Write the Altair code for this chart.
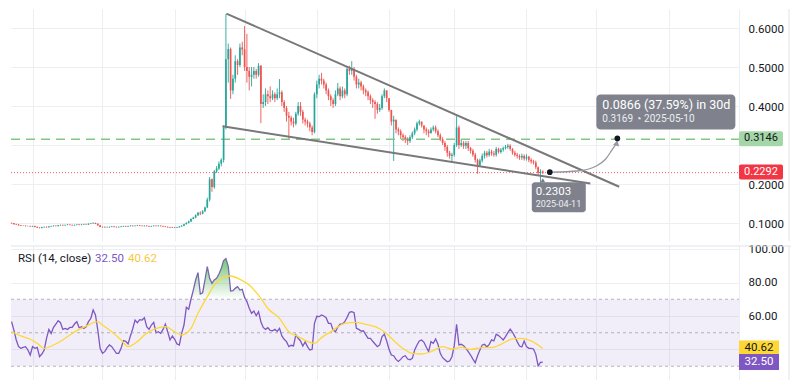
import altair as alt
import pandas as pd

# ---------------- data ----------------
START_DATE = "2024-08-23"
FIRST_OPEN = 0.100

close = [
    0.099, 0.097, 0.096, 0.094, 0.093, 0.093, 0.092, 0.092, 0.091, 0.092,
    0.090, 0.088, 0.087, 0.089, 0.090, 0.089, 0.091, 0.092, 0.093, 0.092,
    0.094, 0.095, 0.094, 0.095, 0.096, 0.095, 0.094, 0.095, 0.096, 0.095,
    0.096, 0.097, 0.096, 0.098, 0.099, 0.100, 0.098, 0.094, 0.090, 0.089,
    0.090, 0.089, 0.090, 0.091, 0.090, 0.089, 0.090, 0.091, 0.092, 0.091,
    0.092, 0.093, 0.092, 0.093, 0.094, 0.093, 0.092, 0.093, 0.092, 0.091,
    0.092, 0.093, 0.092, 0.093, 0.092, 0.091, 0.090, 0.089, 0.088, 0.089,
    0.088, 0.089, 0.091, 0.093, 0.097, 0.100, 0.104, 0.110,
    0.114, 0.120, 0.126, 0.124, 0.130, 0.140, 0.160, 0.212, 0.192, 0.232,
    0.240, 0.252, 0.262, 0.345, 0.520,
    0.546, 0.440, 0.470, 0.515, 0.505, 0.550, 0.545, 0.500, 0.490, 0.475,
    0.480, 0.490, 0.480, 0.503, 0.405, 0.410, 0.430, 0.425, 0.420, 0.430,
    0.420, 0.430, 0.435, 0.410, 0.395, 0.375, 0.370, 0.360, 0.355, 0.380,
    0.400, 0.385, 0.365, 0.360, 0.355, 0.345, 0.333, 0.430, 0.455, 0.470,
    0.465, 0.455, 0.440, 0.425, 0.415, 0.405, 0.430, 0.445, 0.425, 0.440,
    0.430, 0.495, 0.490, 0.495, 0.475, 0.455, 0.460, 0.450, 0.440, 0.435,
    0.425, 0.415, 0.410, 0.405, 0.390, 0.395, 0.425, 0.440, 0.420, 0.390,
    0.360, 0.365, 0.340, 0.335, 0.325, 0.320, 0.315, 0.310, 0.320, 0.330,
    0.340, 0.355, 0.360, 0.350, 0.340, 0.335, 0.330, 0.340, 0.345, 0.335,
    0.325, 0.315, 0.305, 0.295, 0.280, 0.272, 0.275, 0.300, 0.345, 0.300,
    0.305, 0.298, 0.305, 0.292, 0.285, 0.275, 0.262, 0.248, 0.260, 0.272,
    0.280, 0.274, 0.283, 0.278, 0.275, 0.290, 0.282, 0.288, 0.292, 0.295,
    0.298, 0.290, 0.280, 0.275, 0.272, 0.268, 0.272, 0.265, 0.270, 0.262,
    0.258, 0.255, 0.243, 0.228, 0.232, 0.229,
]

high = [
    0.101, 0.100, 0.098, 0.097, 0.095, 0.094, 0.094, 0.093, 0.093, 0.093,
    0.093, 0.091, 0.089, 0.090, 0.091, 0.091, 0.092, 0.093, 0.094, 0.094,
    0.095, 0.096, 0.096, 0.096, 0.097, 0.097, 0.096, 0.096, 0.097, 0.097,
    0.097, 0.098, 0.098, 0.099, 0.100, 0.102, 0.101, 0.099, 0.095, 0.091,
    0.091, 0.091, 0.091, 0.092, 0.092, 0.091, 0.091, 0.092, 0.093, 0.093,
    0.093, 0.094, 0.094, 0.094, 0.095, 0.095, 0.094, 0.094, 0.094, 0.093,
    0.093, 0.094, 0.094, 0.094, 0.094, 0.093, 0.092, 0.091, 0.090, 0.090,
    0.090, 0.090, 0.092, 0.094, 0.098, 0.102, 0.106, 0.112,
    0.116, 0.122, 0.128, 0.130, 0.133, 0.142, 0.165, 0.218, 0.214, 0.236,
    0.246, 0.258, 0.266, 0.350, 0.636,
    0.560, 0.550, 0.480, 0.530, 0.520, 0.560, 0.565, 0.605, 0.585, 0.500,
    0.500, 0.500, 0.495, 0.510, 0.505, 0.430, 0.445, 0.440, 0.450, 0.440,
    0.435, 0.445, 0.469, 0.440, 0.415, 0.400, 0.385, 0.375, 0.370, 0.385,
    0.410, 0.410, 0.390, 0.370, 0.365, 0.360, 0.350, 0.435, 0.465, 0.480,
    0.485, 0.470, 0.460, 0.445, 0.430, 0.420, 0.440, 0.459, 0.450, 0.450,
    0.445, 0.500, 0.503, 0.515, 0.500, 0.480, 0.470, 0.465, 0.455, 0.445,
    0.440, 0.430, 0.420, 0.415, 0.410, 0.405, 0.430, 0.445, 0.440, 0.420,
    0.390, 0.375, 0.365, 0.345, 0.340, 0.330, 0.325, 0.320, 0.325, 0.335,
    0.345, 0.360, 0.365, 0.360, 0.350, 0.345, 0.340, 0.345, 0.350, 0.350,
    0.340, 0.330, 0.320, 0.310, 0.300, 0.285, 0.280, 0.305, 0.374, 0.350,
    0.315, 0.310, 0.310, 0.310, 0.295, 0.290, 0.280, 0.265, 0.265, 0.278,
    0.285, 0.285, 0.290, 0.288, 0.285, 0.295, 0.293, 0.292, 0.296, 0.300,
    0.303, 0.302, 0.292, 0.285, 0.280, 0.276, 0.278, 0.276, 0.276, 0.272,
    0.266, 0.262, 0.260, 0.245, 0.238, 0.235,
]

low = [
    0.098, 0.096, 0.095, 0.093, 0.092, 0.092, 0.091, 0.091, 0.090, 0.090,
    0.089, 0.087, 0.086, 0.086, 0.088, 0.088, 0.088, 0.090, 0.091, 0.091,
    0.091, 0.093, 0.093, 0.093, 0.094, 0.094, 0.093, 0.093, 0.094, 0.094,
    0.094, 0.095, 0.095, 0.095, 0.097, 0.098, 0.097, 0.093, 0.089, 0.088,
    0.088, 0.088, 0.088, 0.089, 0.089, 0.088, 0.088, 0.089, 0.090, 0.090,
    0.090, 0.091, 0.091, 0.091, 0.092, 0.092, 0.091, 0.091, 0.091, 0.090,
    0.090, 0.091, 0.091, 0.091, 0.091, 0.090, 0.089, 0.088, 0.087, 0.087,
    0.087, 0.087, 0.088, 0.090, 0.092, 0.096, 0.099, 0.103,
    0.110, 0.112, 0.118, 0.120, 0.122, 0.128, 0.138, 0.155, 0.180, 0.188,
    0.228, 0.236, 0.245, 0.255, 0.340,
    0.460, 0.418, 0.430, 0.460, 0.480, 0.500, 0.530, 0.490, 0.460, 0.440,
    0.450, 0.470, 0.470, 0.475, 0.356, 0.395, 0.400, 0.405, 0.410, 0.415,
    0.410, 0.415, 0.420, 0.400, 0.385, 0.360, 0.315, 0.350, 0.345, 0.350,
    0.375, 0.375, 0.355, 0.350, 0.345, 0.335, 0.325, 0.330, 0.420, 0.445,
    0.455, 0.445, 0.430, 0.415, 0.400, 0.395, 0.400, 0.425, 0.415, 0.420,
    0.420, 0.425, 0.480, 0.480, 0.465, 0.445, 0.445, 0.440, 0.430, 0.425,
    0.415, 0.405, 0.395, 0.367, 0.380, 0.385, 0.390, 0.420, 0.410, 0.385,
    0.350, 0.259, 0.330, 0.325, 0.315, 0.310, 0.305, 0.300, 0.305, 0.315,
    0.325, 0.335, 0.350, 0.345, 0.330, 0.325, 0.320, 0.330, 0.335, 0.330,
    0.320, 0.310, 0.300, 0.285, 0.270, 0.265, 0.254, 0.270, 0.295, 0.290,
    0.295, 0.290, 0.290, 0.285, 0.278, 0.270, 0.255, 0.226, 0.245, 0.255,
    0.265, 0.268, 0.270, 0.272, 0.270, 0.270, 0.278, 0.278, 0.283, 0.288,
    0.290, 0.285, 0.275, 0.270, 0.265, 0.262, 0.262, 0.260, 0.260, 0.256,
    0.252, 0.250, 0.238, 0.222, 0.203, 0.225,
]

rsi = [
    56.6, 51.6, 45.7, 41.7, 40.7, 41.3, 41.7, 39.7, 36.7, 41.7,
    40.7, 41.3, 35.7, 37.3, 39.7, 46.7, 52.0, 49.6, 53.2, 55.2,
    57.2, 56.0, 52.0, 52.6, 52.0, 53.2, 53.2, 55.2, 56.6, 53.0,
    53.6, 52.6, 53.6, 56.6, 58.6, 63.6, 60.6, 51.6, 40.7, 37.7,
    38.7, 41.1, 42.7, 41.7, 39.7, 37.7, 37.7, 40.7, 45.3, 44.9,
    43.3, 48.1, 52.4, 57.6, 56.0, 57.8, 57.6, 59.0, 53.6, 52.0,
    54.6, 56.2, 50.0, 50.6, 49.6, 52.0, 55.2, 50.6, 45.7, 48.1,
    46.1, 43.3, 42.7, 49.6, 54.6, 65.2, 64.0, 70.0, 75.5, 81.5,
    85.9, 73.1, 73.9, 81.5, 89.5, 82.5, 79.5, 81.5, 82.5, 85.1,
    88.3, 93.0, 94.2, 89.5, 74.9, 75.1, 76.5, 77.5, 75.5, 75.9,
    71.1, 68.6, 64.6, 61.6, 63.0, 60.2, 62.6, 56.6, 53.2, 52.0,
    53.0, 51.4, 51.2, 52.0, 50.8, 52.6, 48.1, 46.1, 44.7, 41.7,
    42.5, 42.1, 48.7, 46.7, 45.1, 42.1, 44.5, 41.7, 39.7, 40.1,
    55.6, 59.8, 59.6, 60.6, 60.0, 59.0, 55.6, 55.6, 51.6, 50.6,
    53.4, 55.2, 55.2, 56.6, 59.2, 62.2, 62.6, 62.0, 52.6, 52.0,
    51.0, 51.2, 48.9, 46.7, 46.7, 44.9, 43.3, 41.7, 42.7, 47.7,
    49.1, 45.1, 40.1, 36.7, 36.3, 34.1, 32.9, 34.1, 35.7, 36.3,
    34.3, 33.9, 34.7, 39.7, 42.7, 45.1, 45.7, 44.3, 41.3, 38.7,
    44.7, 43.7, 46.3, 43.1, 37.7, 35.1, 33.9, 32.7, 33.1, 35.7,
    42.3, 55.0, 42.7, 43.1, 42.3, 40.7, 38.7, 36.7, 34.3, 32.1,
    36.3, 39.7, 42.7, 43.1, 41.5, 43.1, 45.7, 45.1, 49.1, 48.3,
    47.1, 45.7, 47.7, 50.1, 52.2, 50.3, 47.7, 44.7, 42.1, 41.5,
    45.1, 41.7, 40.7, 40.7, 40.3, 37.1, 30.2, 32.3, 32.5,
]

# RSI-based moving average, read at these candle numbers (0 = first candle)
rsi_ma_day = [0, 4, 8, 11, 14, 18, 22, 25, 29, 32, 37, 39, 43, 47, 50, 54, 57, 61, 66, 70,
              73, 77, 80, 84, 87, 91, 94, 98, 102, 107, 110, 115, 119, 123, 130, 133, 137, 143, 148, 152,
              156, 160, 163, 167, 172, 176, 180, 185, 189, 193, 197, 202, 206, 210, 215, 219, 223, 228]
rsi_ma = [50.6, 48.1, 46.1, 43.7, 40.7, 42.7, 45.7, 48.7, 52.0, 54.0, 56.6, 54.6, 50.6, 45.7, 41.7, 44.7, 48.7, 52.0, 53.6, 50.6,
          48.7, 52.6, 61.6, 71.5, 78.5, 83.1, 83.9, 81.9, 78.5, 70.5, 64.5, 58.6, 50.6, 47.7, 43.7, 47.1, 50.6, 55.6, 56.2, 55.0,
          53.6, 50.6, 46.7, 41.7, 37.7, 37.3, 38.7, 41.7, 40.3, 41.3, 40.1, 41.1, 41.1, 43.1, 46.3, 46.7, 45.1, 40.6]

# wedge trend lines
trend_line = ["upper", "upper", "lower", "lower"]
trend_date = ["2024-11-23T05:00:00", "2025-05-10T19:00:00", "2024-11-21T12:00:00", "2025-04-28T10:00:00"]
trend_price = [0.637, 0.193, 0.348, 0.201]

target_level = 0.3146
last_price = 0.2292

proj_date = ["2025-04-11T00:00:00", "2025-05-10T00:00:00"]
proj_price = [0.2303, 0.3169]
arrow_date = ["2025-04-11T00:00:00", "2025-04-23T00:00:00", "2025-05-01T00:00:00",
              "2025-05-05T00:00:00", "2025-05-08T00:00:00", "2025-05-09T18:00:00"]
arrow_price = [0.2303, 0.2333, 0.246, 0.264, 0.29, 0.305]

rsi_last = 32.50
rsi_ma_last = 40.62
price_ticks = [0.1, 0.2, 0.3, 0.4, 0.5, 0.6]
rsi_ticks = [40, 60, 80, 100]
# tick labels that sit under the value tags (hidden there in the reference)
price_hidden_label = 0.3
rsi_hidden_label = 40

# ---------------- styling ----------------
GREEN = "#26a69a"
RED = "#ef5350"
GRID = "#eceef2"
TEXT = "#131722"
PURPLE = "#7e57c2"
YELLOW = "#fdd835"
TREND = "#787878"
TAG = "#787b86"
FONT = "Roboto"
W = 728
H_PRICE = 232
H_RSI = 139

# ---------------- tables ----------------
n = len(close)
assert len(high) == n and len(low) == n and len(rsi) == n
assert len(rsi_ma_day) == len(rsi_ma)
start = pd.Timestamp(START_DATE)
fmt = "%Y-%m-%dT%H:%M:%S"
dates = [(start + pd.Timedelta(days=i)).strftime(fmt) for i in range(n)]
opens = [FIRST_OPEN] + close[:-1]
candles = pd.DataFrame({"date": dates, "open": opens, "close": close,
                        "high": high, "low": low, "rsi": rsi})
candles["dir"] = ["up" if c >= o else "down" for o, c in zip(opens, close)]

ma_df = pd.DataFrame({"date": [(start + pd.Timedelta(days=d)).strftime(fmt) for d in rsi_ma_day],
                      "ma": rsi_ma})
trend_df = pd.DataFrame({"line": trend_line, "date": trend_date, "p": trend_price})
proj_df = pd.DataFrame({"date": proj_date, "p": proj_price})
arrow_df = pd.DataFrame({"date": arrow_date, "p": arrow_price, "k": list(range(len(arrow_date)))})

x_scale = alt.Scale(domain=[alt.DateTime(year=2024, month=8, date=22, hours=18),
                            alt.DateTime(year=2025, month=7, date=1, hours=5)])
y_price = alt.Scale(domain=[0.0538, 0.6487], nice=False, zero=False)
y_rsi = alt.Scale(domain=[18.8, 101.8], nice=False, zero=False)
color_scale = alt.Scale(domain=["up", "down"], range=[GREEN, RED])


def x_axis():
    return alt.Axis(grid=True, gridColor=GRID, labels=False, ticks=False,
                    domain=False, title=None)


def y_axis(values, fmt_, hidden, offset):
    return alt.Axis(orient="right", values=values, format=fmt_, grid=True, gridColor=GRID,
                    ticks=False, domain=False, labelPadding=9, labelFontSize=11.5,
                    labelColor=TEXT, title=None, labelOffset=offset,
                    labelExpr=f"abs(datum.value - {hidden}) < 1e-9 ? '' : datum.label")


# every layer repeats the same axis definition, so nothing conflicts when layers merge
def XT():
    return alt.X("date:T", scale=x_scale, axis=x_axis())


def YP(field):
    return alt.Y(field, scale=y_price, axis=y_axis(price_ticks, ".4f", price_hidden_label, 2))


def YR(field):
    return alt.Y(field, scale=y_rsi, axis=y_axis(rsi_ticks, ".2f", rsi_hidden_label, 0))


# ---------------- price pane ----------------
wicks = alt.Chart(candles).mark_rule(strokeWidth=0.9).encode(
    x=XT(), y=YP("low:Q"), y2="high:Q",
    color=alt.Color("dir:N", scale=color_scale, legend=None),
)
bodies = alt.Chart(candles).mark_rule(strokeWidth=1.7, strokeCap="butt").encode(
    x=XT(), y=YP("open:Q"), y2="close:Q",
    color=alt.Color("dir:N", scale=color_scale, legend=None),
)
target_rule = alt.Chart(pd.DataFrame({"p": [target_level]})).mark_rule(
    color="#81c784", strokeWidth=1.6, strokeDash=[9, 6]).encode(
    y=YP("p:Q"), x=alt.value(0), x2=alt.value(W))
last_rule = alt.Chart(pd.DataFrame({"p": [last_price]})).mark_rule(
    color="#f23645", strokeWidth=1, strokeDash=[1, 2], opacity=0.8).encode(
    y=YP("p:Q"), x=alt.value(0), x2=alt.value(W))
trend = alt.Chart(trend_df).mark_line(color=TREND, strokeWidth=2).encode(
    x=XT(), y=YP("p:Q"), detail="line:N")
arrow = alt.Chart(arrow_df).mark_line(color="#9598a1", strokeWidth=1.3, interpolate="monotone").encode(
    x=XT(), y=YP("p:Q"), order="k:Q")
arrow_head = alt.Chart(arrow_df.tail(1)).mark_point(
    shape="triangle-up", filled=True, size=40, color="#9598a1", angle=15, opacity=1).encode(
    x=XT(), y=YP("p:Q"))

start_pt = proj_df.head(1)
end_pt = proj_df.tail(1)
box_end = alt.Chart(end_pt).mark_rect(color=TAG, cornerRadius=4, xOffset=-21, x2Offset=118,
                                      yOffset=-44, y2Offset=-9, opacity=0.95).encode(
    x=XT(), x2="date:T", y=YP("p:Q"), y2="p:Q")
txt_end1 = alt.Chart(end_pt).mark_text(align="left", baseline="middle", dx=-15, dy=-33,
                                       fontSize=12.5, font=FONT, color="white",
                                       text="0.0866 (37.59%) in 30d").encode(
    x=XT(), y=YP("p:Q"))
txt_end2 = alt.Chart(end_pt).mark_text(align="left", baseline="middle", dx=-15, dy=-19,
                                       fontSize=10, font=FONT, color="#eceef2",
                                       text="0.3169 \u25d4 2025-05-10").encode(
    x=XT(), y=YP("p:Q"))

box_start = alt.Chart(start_pt).mark_rect(color=TAG, cornerRadius=3, xOffset=-18, x2Offset=36,
                                          yOffset=10, y2Offset=40, opacity=0.95).encode(
    x=XT(), x2="date:T", y=YP("p:Q"), y2="p:Q")
pointer = alt.Chart(start_pt).mark_point(shape="triangle-up", filled=True, size=22, color=TAG,
                                         xOffset=-7, yOffset=8, opacity=1).encode(
    x=XT(), y=YP("p:Q"))
txt_start1 = alt.Chart(start_pt).mark_text(align="left", baseline="middle", dx=-14, dy=20,
                                           fontSize=11.5, font=FONT, color="white",
                                           text="0.2303").encode(
    x=XT(), y=YP("p:Q"))
txt_start2 = alt.Chart(start_pt).mark_text(align="left", baseline="middle", dx=-14, dy=32,
                                           fontSize=9, font=FONT, color="#eceef2",
                                           text="2025-04-11").encode(
    x=XT(), y=YP("p:Q"))
dots = alt.Chart(proj_df).mark_circle(size=32, color=TEXT, opacity=1).encode(
    x=XT(), y=YP("p:Q"))

price_tags = pd.DataFrame({"p": [target_level, last_price],
                           "t": [f"{target_level:.4f}", f"{last_price:.4f}"],
                           "fill": ["#a5d6a7", "#f23645"],
                           "ink": [TEXT, "white"]})
tag_boxes = alt.Chart(price_tags).mark_rect(yOffset=-8, y2Offset=7, cornerRadius=2).encode(
    x=alt.value(W), x2=alt.value(W + 44),
    y=YP("p:Q"), y2="p:Q",
    color=alt.Color("fill:N", scale=None))
tag_text = alt.Chart(price_tags).mark_text(align="center", baseline="middle", fontSize=11,
                                           font=FONT, dy=-1).encode(
    x=alt.value(W + 22), y=YP("p:Q"),
    text="t:N", color=alt.Color("ink:N", scale=None))

border_price = alt.Chart(pd.DataFrame({"a": [0]})).mark_rule(color="#e0e3eb", strokeWidth=1).encode(
    x=alt.value(W + 50), y=alt.value(0), y2=alt.value(H_PRICE))

price_chart = alt.layer(
    wicks, target_rule, last_rule, bodies, trend, arrow, arrow_head,
    box_end, txt_end1, txt_end2, box_start, pointer, txt_start1, txt_start2, dots,
    tag_boxes, tag_text, border_price,
).properties(width=W, height=H_PRICE)

# ---------------- RSI pane ----------------
rsi_line = alt.Chart(candles).mark_line(color=PURPLE, strokeWidth=1.3).encode(
    x=XT(), y=YR("rsi:Q"))
band = alt.Chart(pd.DataFrame({"lo": [30], "hi": [70]})).mark_rect(color=PURPLE, opacity=0.1).encode(
    x=alt.value(0), x2=alt.value(W), y=YR("lo:Q"), y2="hi:Q")
band_lines = alt.Chart(pd.DataFrame({"lvl": [70, 50, 30]})).mark_rule(
    color="#9598a1", strokeWidth=1, strokeDash=[3, 3], opacity=0.7).encode(
    x=alt.value(0), x2=alt.value(W), y=YR("lvl:Q"))
ob_fill = alt.Chart(candles).transform_calculate(ob="max(datum.rsi, 70)").mark_area(
    color=alt.Gradient(gradient="linear", x1=0, x2=0, y1=0, y2=1,
                       stops=[alt.GradientStop(color="rgba(76,175,80,0.75)", offset=0),
                              alt.GradientStop(color="rgba(76,175,80,0.0)", offset=1)])).encode(
    x=XT(), y=YR("ob:Q"), y2=alt.datum(70))
ma_line = alt.Chart(ma_df).mark_line(color=YELLOW, strokeWidth=1.3, interpolate="monotone").encode(
    x=XT(), y=YR("ma:Q"))

legend_df = pd.DataFrame({"t": ["RSI (14, close)", f"{rsi_last:.2f}", f"{rsi_ma_last:.2f}"],
                          "xp": [7, 84, 117], "ink": [TEXT, PURPLE, "#f5c842"]})
legend_layers = [
    alt.Chart(legend_df.iloc[[k]]).mark_text(align="left", baseline="middle", fontSize=11.5,
                                              font=FONT, color=legend_df["ink"][k]).encode(
        x=alt.value(int(legend_df["xp"][k])), y=alt.value(13), text="t:N")
    for k in range(len(legend_df))
]

rsi_tags = pd.DataFrame({"v": [rsi_ma_last, rsi_last],
                         "t": [f"{rsi_ma_last:.2f}", f"{rsi_last:.2f}"],
                         "fill": [YELLOW, PURPLE], "ink": [TEXT, "white"], "k": [0, 1]})
rsi_tag_boxes = alt.Chart(rsi_tags).mark_rect(yOffset=-8, y2Offset=8).encode(
    x=alt.value(W), x2=alt.value(W + 40),
    y=YR("v:Q"), y2="v:Q",
    color=alt.Color("fill:N", scale=None), order="k:Q")
rsi_tag_text = alt.Chart(rsi_tags).mark_text(align="center", baseline="middle", fontSize=11.5,
                                             font=FONT).encode(
    x=alt.value(W + 20), y=YR("v:Q"),
    text="t:N", color=alt.Color("ink:N", scale=None))

sep = alt.Chart(pd.DataFrame({"a": [0]})).mark_rule(color="#e0e3eb", strokeWidth=1).encode(
    x=alt.value(0), x2=alt.value(W + 52), y=alt.value(0))
border_rsi = alt.Chart(pd.DataFrame({"a": [0]})).mark_rule(color="#e0e3eb", strokeWidth=1).encode(
    x=alt.value(W + 50), y=alt.value(0), y2=alt.value(H_RSI))

rsi_chart = alt.layer(
    rsi_line, band, band_lines, ob_fill, ma_line, *legend_layers,
    rsi_tag_boxes, rsi_tag_text, sep, border_rsi,
).properties(width=W, height=H_RSI)

chart = alt.vconcat(price_chart, rsi_chart, spacing=1).properties(
    padding=0, background="white"
).configure(font=FONT).configure_view(stroke=None)

chart.save("out.html", embed_options={"renderer": "svg", "actions": False})
